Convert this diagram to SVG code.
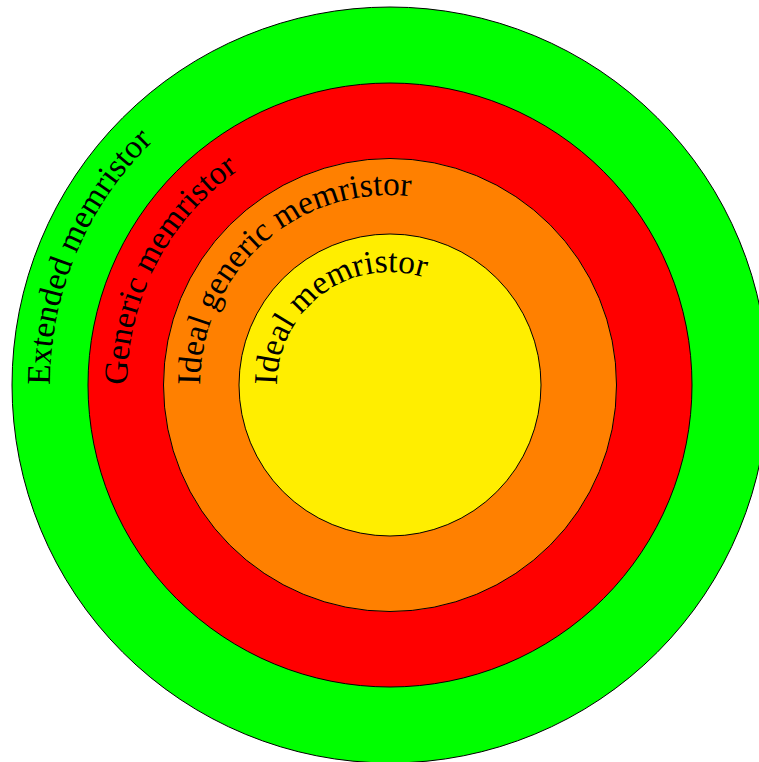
<svg xmlns="http://www.w3.org/2000/svg" xmlns:xlink="http://www.w3.org/1999/xlink" width="759" height="762" viewBox="0 0 759 762">
<style>
.ring{stroke:#000;stroke-width:1}
.lbl{font-family:"Liberation Serif","DejaVu Serif",serif;font-size:33.4px;fill:#000}
</style>
<defs>
<path id="p1" d="M 50 385 A 340 340 0 0 1 730 385" fill="none"/>
<path id="p2" d="M 127 385 A 263 263 0 0 1 653 385" fill="none"/>
<path id="p3" d="M 200 385 A 190 190 0 0 1 580 385" fill="none"/>
<path id="p4" d="M 277 385 A 113 113 0 0 1 503 385" fill="none"/>
</defs>
<rect width="759" height="762" fill="#fff"/>
<g id="extended">
<circle class="ring" cx="390" cy="385" r="378" fill="#00ff00"/>
</g>
<g id="generic">
<circle class="ring" cx="390" cy="385" r="302" fill="#ff0000"/>
</g>
<g id="ideal-generic">
<circle class="ring" cx="390" cy="385" r="226.5" fill="#ff8000"/>
</g>
<g id="ideal">
<circle class="ring" cx="390" cy="385" r="151" fill="#ffee00"/>
</g>
<g id="labels">
<text class="lbl"><textPath href="#p1" xlink:href="#p1">Extended memristor</textPath></text>
<text class="lbl"><textPath href="#p2" xlink:href="#p2">Generic memristor</textPath></text>
<text class="lbl"><textPath href="#p3" xlink:href="#p3">Ideal generic memristor</textPath></text>
<text class="lbl"><textPath href="#p4" xlink:href="#p4">Ideal memristor</textPath></text>
</g>
</svg>
